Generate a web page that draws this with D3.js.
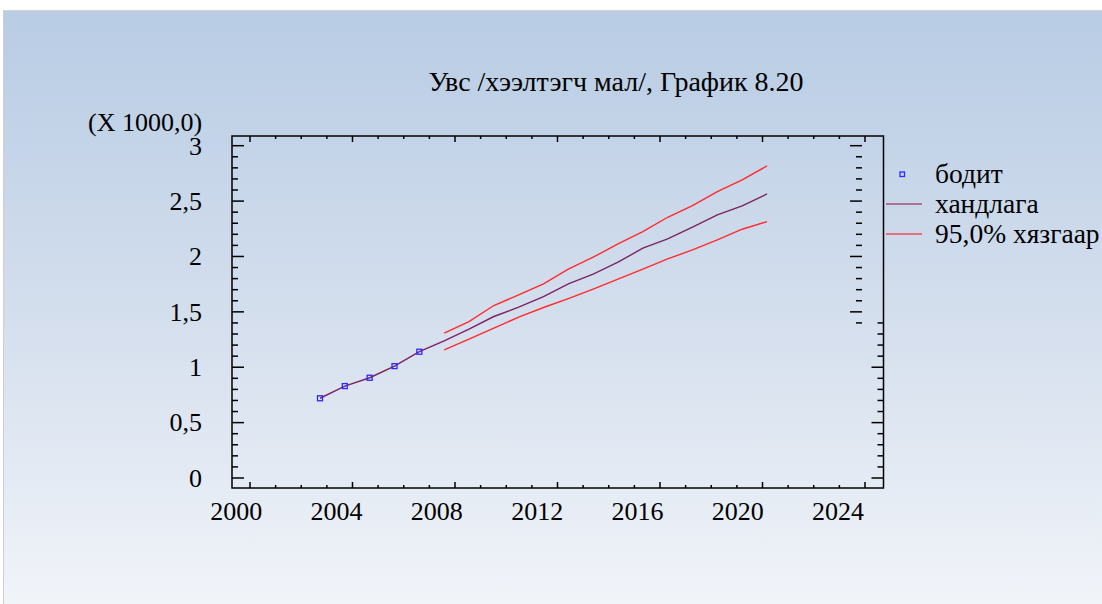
<!DOCTYPE html>
<html><head><meta charset="utf-8">
<script src="https://cdn.jsdelivr.net/npm/d3@7/dist/d3.min.js"></script>
<style>html,body{margin:0;padding:0;background:#fff;}svg{display:block;}
svg text{font-family:"Liberation Serif","Times New Roman","DejaVu Serif",serif;}</style>
</head><body>
<script>
// ---- data ----
const title = "Увс /хээлтэгч мал/, График 8.20";
const yUnitLabel = "(X 1000,0)";
const actualYears = [2003, 2004, 2005, 2006, 2007];
const actualValues = [0.72, 0.83, 0.905, 1.01, 1.14];
const forecastYears = [2003, 2004, 2005, 2006, 2007, 2008, 2009, 2010, 2011, 2012, 2013, 2014, 2015, 2016, 2017, 2018, 2019, 2020, 2021];
const forecastValues = [0.72, 0.83, 0.905, 1.01, 1.14, 1.238, 1.344, 1.458, 1.542, 1.638, 1.753, 1.840, 1.948, 2.075, 2.158, 2.264, 2.375, 2.456, 2.564];
const limitYears = [2008, 2009, 2010, 2011, 2012, 2013, 2014, 2015, 2016, 2017, 2018, 2019, 2020, 2021];
const upperValues = [1.308, 1.412, 1.557, 1.653, 1.753, 1.885, 1.993, 2.113, 2.224, 2.354, 2.459, 2.585, 2.691, 2.817];
const lowerValues = [1.157, 1.254, 1.353, 1.452, 1.539, 1.620, 1.705, 1.795, 1.885, 1.978, 2.059, 2.149, 2.246, 2.314];
const xTickLabels = [2000, 2004, 2008, 2012, 2016, 2020, 2024];
const yTickLabels = ["0", "0,5", "1", "1,5", "2", "2,5", "3"];
const yTickValues = [0, 0.5, 1, 1.5, 2, 2.5, 3];
const legendLabels = ["бодит", "хандлага", "95,0% хязгаар"];

// ---- layout ----
const W = 1102, H = 604;
const frame = {l: 232, r: 883.5, t: 136, b: 488};

const svg = d3.select("body").append("svg").attr("width", W).attr("height", H);
const defs = svg.append("defs");
const grad = defs.append("linearGradient").attr("id", "bg").attr("x1", 0).attr("y1", 0).attr("x2", 0).attr("y2", 1);
grad.append("stop").attr("offset", "0%").attr("stop-color", "#b8cce4");
grad.append("stop").attr("offset", "55%").attr("stop-color", "#d6e0ee");
grad.append("stop").attr("offset", "100%").attr("stop-color", "#f1f4f9");

svg.append("rect").attr("x", 4).attr("y", 11).attr("width", W - 4).attr("height", H - 11).attr("fill", "url(#bg)");
svg.append("line").attr("x1", 3.5).attr("x2", 3.5).attr("y1", 10).attr("y2", H).attr("stroke", "#cfcfcf").attr("stroke-width", 1);
svg.append("line").attr("x1", 3).attr("x2", W).attr("y1", 10.5).attr("y2", 10.5).attr("stroke", "#d4d4d4").attr("stroke-width", 1);

// scales
const xData = d3.scaleLinear().domain([2003, 2021]).range([320, 767]);
const xTick = d3.scaleLinear().domain([2000, 2024]).range([250, 865]);
const xLabel = d3.scaleLinear().domain([2000, 2024]).range([236.3, 838]);
const y = d3.scaleLinear().domain([0, 3]).range([478, 145.7]);

// title
svg.append("text").attr("x", 616).attr("y", 91).attr("text-anchor", "middle")
  .attr("font-size", 28).attr("fill", "#000").text(title);
svg.append("text").attr("x", 88).attr("y", 131).attr("font-size", 26).attr("fill", "#000").text(yUnitLabel);

const g = svg.append("g");
const tickColor = "#000";

// y ticks (left, inward)
const yMinor = d3.range(0, 31).map(i => i / 10);
g.selectAll(".yl").data(yMinor).enter().append("line")
  .attr("x1", frame.l).attr("x2", d => frame.l + (Math.round(d * 10) % 5 === 0 ? 12 : 6))
  .attr("y1", d => y(d)).attr("y2", d => y(d)).attr("stroke", tickColor).attr("stroke-width", 1.5);

// y ticks right: attached portion (<=1.4) and detached portion (>=1.4)
g.selectAll(".yr1").data(yMinor.filter(d => d <= 1.401)).enter().append("line")
  .attr("x1", frame.r).attr("x2", d => frame.r - (Math.round(d * 10) % 5 === 0 ? 12 : 6))
  .attr("y1", d => y(d)).attr("y2", d => y(d)).attr("stroke", tickColor).attr("stroke-width", 1.5);
g.selectAll(".yr2").data(yMinor.filter(d => d >= 1.399)).enter().append("line")
  .attr("x1", 862).attr("x2", d => 862 - (Math.round(d * 10) % 5 === 0 ? 12 : 6))
  .attr("y1", d => y(d)).attr("y2", d => y(d)).attr("stroke", tickColor).attr("stroke-width", 1.5);

// x ticks top & bottom
const xMinor = d3.range(2000, 2025);
g.selectAll(".xb").data(xMinor).enter().append("line")
  .attr("x1", d => xTick(d)).attr("x2", d => xTick(d))
  .attr("y1", frame.b).attr("y2", d => frame.b - ((d % 4 === 0) ? 6 : 3))
  .attr("stroke", tickColor).attr("stroke-width", 1.5);
g.selectAll(".xt").data(xMinor).enter().append("line")
  .attr("x1", d => xTick(d)).attr("x2", d => xTick(d))
  .attr("y1", frame.t).attr("y2", d => frame.t + ((d % 4 === 0) ? 6 : 3))
  .attr("stroke", tickColor).attr("stroke-width", 1.5);

// frame
g.append("rect").attr("x", frame.l).attr("y", frame.t).attr("width", frame.r - frame.l).attr("height", frame.b - frame.t)
  .attr("fill", "none").attr("stroke", "#000").attr("stroke-width", 1.5);

// tick labels
g.selectAll(".ytl").data(yTickValues).enter().append("text")
  .attr("x", 202).attr("y", d => y(d)).attr("dy", "0.34em").attr("text-anchor", "end")
  .attr("font-size", 26).attr("fill", "#000")
  .text((d, i) => yTickLabels[i]);
g.selectAll(".xtl").data(xTickLabels).enter().append("text")
  .attr("x", d => xLabel(d)).attr("y", 520).attr("text-anchor", "middle")
  .attr("font-size", 26).attr("fill", "#000")
  .text(d => d);

// lines
const lineGen = d3.line().x(d => xData(d[0])).y(d => y(d[1]));
const fc = forecastYears.map((yr, i) => [yr, forecastValues[i]]);
const up = limitYears.map((yr, i) => [yr, upperValues[i]]);
const lo = limitYears.map((yr, i) => [yr, lowerValues[i]]);
const red = "#ff2a2a", purple = "#7d2263";
g.append("path").attr("d", lineGen(up)).attr("fill", "none").attr("stroke", red).attr("stroke-width", 1.4);
g.append("path").attr("d", lineGen(lo)).attr("fill", "none").attr("stroke", red).attr("stroke-width", 1.4);
g.append("path").attr("d", lineGen(fc)).attr("fill", "none").attr("stroke", purple).attr("stroke-width", 1.4);

// points
g.selectAll(".pt").data(actualYears.map((yr, i) => [yr, actualValues[i]])).enter().append("rect")
  .attr("x", d => xData(d[0]) - 2.5).attr("y", d => y(d[1]) - 2.5).attr("width", 5).attr("height", 5)
  .attr("fill", "none").attr("stroke", "#2a2aff").attr("stroke-width", 1.3);

// legend
const leg = svg.append("g");
const rowY = [174, 204, 234];
leg.append("rect").attr("x", 900).attr("y", rowY[0] - 2).attr("width", 4.5).attr("height", 4.5)
  .attr("fill", "none").attr("stroke", "#2a2aff").attr("stroke-width", 1.3);
leg.append("line").attr("x1", 886).attr("x2", 922).attr("y1", rowY[1]).attr("y2", rowY[1]).attr("stroke", "#a0507e").attr("stroke-width", 1.5);
leg.append("line").attr("x1", 886).attr("x2", 922).attr("y1", rowY[2]).attr("y2", rowY[2]).attr("stroke", "#ee4a5a").attr("stroke-width", 1.5);
leg.selectAll(".lt").data(legendLabels).enter().append("text")
  .attr("x", 935).attr("y", (d, i) => rowY[i]).attr("dy", "0.34em")
  .attr("font-size", 27.5).attr("fill", "#000").text(d => d);
</script>
</body></html>
